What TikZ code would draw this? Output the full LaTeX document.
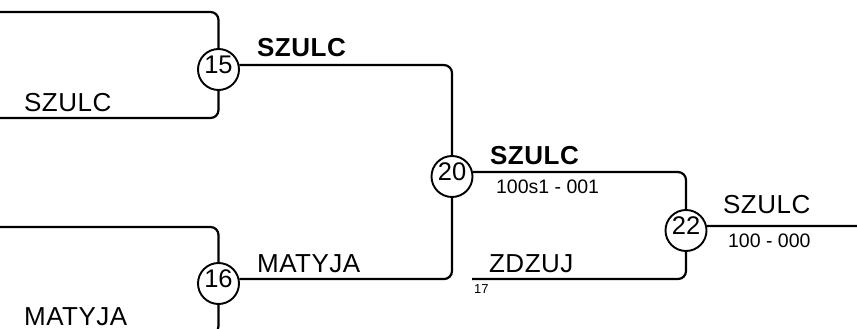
\documentclass[tikz,border=0pt]{standalone}
\usepackage{fontspec}
\setmainfont{Liberation Sans}
\newfontfamily\lblfont[LetterSpace=2]{Liberation Sans}
\begin{document}
\begin{tikzpicture}[x=1pt,y=-1pt,
  line width=2.2pt,
  match/.style={circle,draw,line width=1.9pt,minimum size=41pt,inner sep=0pt},
  seed/.style={inner sep=0pt,font=\fontsize{25.5}{26}\selectfont},
  plainlbl/.style={anchor=base west,inner sep=0pt,font=\fontsize{26}{26}\lblfont},
  boldlbl/.style={anchor=base west,inner sep=0pt,font=\fontsize{26}{26}\lblfont\bfseries},
  scorelbl/.style={anchor=base west,inner sep=0pt,font=\fontsize{19.5}{20}\selectfont},
  tinylbl/.style={anchor=base west,inner sep=0pt,font=\fontsize{13}{13}\selectfont},
  link/.style={rounded corners=8pt}]
\useasboundingbox (0,0) rectangle (857,329);
\clip (0,0) rectangle (857,329);
% match circles (drawn slightly below their line) and numbers
\node[match] (c15) at (218.5,69.5) {};
\node[match] (c16) at (218.5,283.5) {};
\node[match] (c20) at (452,176.5) {};
\node[match] (c22) at (686,230.5) {};
\node[seed] (n15) at (218.5,65) {15};
\node[seed] (n16) at (218.5,279) {16};
\node[seed] (n20) at (452,172) {20};
\node[seed] (n22) at (686,226) {22};
% free ends
\coordinate (t15) at (-2,12);
\coordinate (b15) at (-2,118);
\coordinate (t16) at (-2,227);
\coordinate (b16) at (-2,334);
\coordinate (z17) at (472,279);
\coordinate (out) at (860,226);
% connectors
\draw[link] (t15) -| (c15.north);
\draw[link] (b15) -| (c15.south);
\draw[link] (t16) -| (c16.north);
\draw[link] (b16) -| (c16.south);
\draw[link] (c15.12) -| (c20.north);
\draw[link] (c16.12) -| (c20.south);
\draw[link] (c20.12) -| (c22.north);
\draw[link] (z17) -| (c22.south);
\draw (c22.12) -- (out);
% labels
\node[boldlbl] (l15) at (256,57) {SZULC};
\node[plainlbl] (l15b) at (23,111) {SZULC};
\node[plainlbl] (l16) at (256,272) {MATYJA};
\node[plainlbl] (l16b) at (23,325) {MATYJA};
\node[boldlbl] (l20) at (489,164) {SZULC};
\node[scorelbl] (s20) at (495,193) {100s1 - 001};
\node[plainlbl] (l22) at (722,213) {SZULC};
\node[scorelbl] (s22) at (727,247) {100 - 000};
\node[plainlbl] (l17) at (488,272) {ZDZUJ};
\node[tinylbl] (n17) at (473,293) {17};
\end{tikzpicture}
\end{document}
